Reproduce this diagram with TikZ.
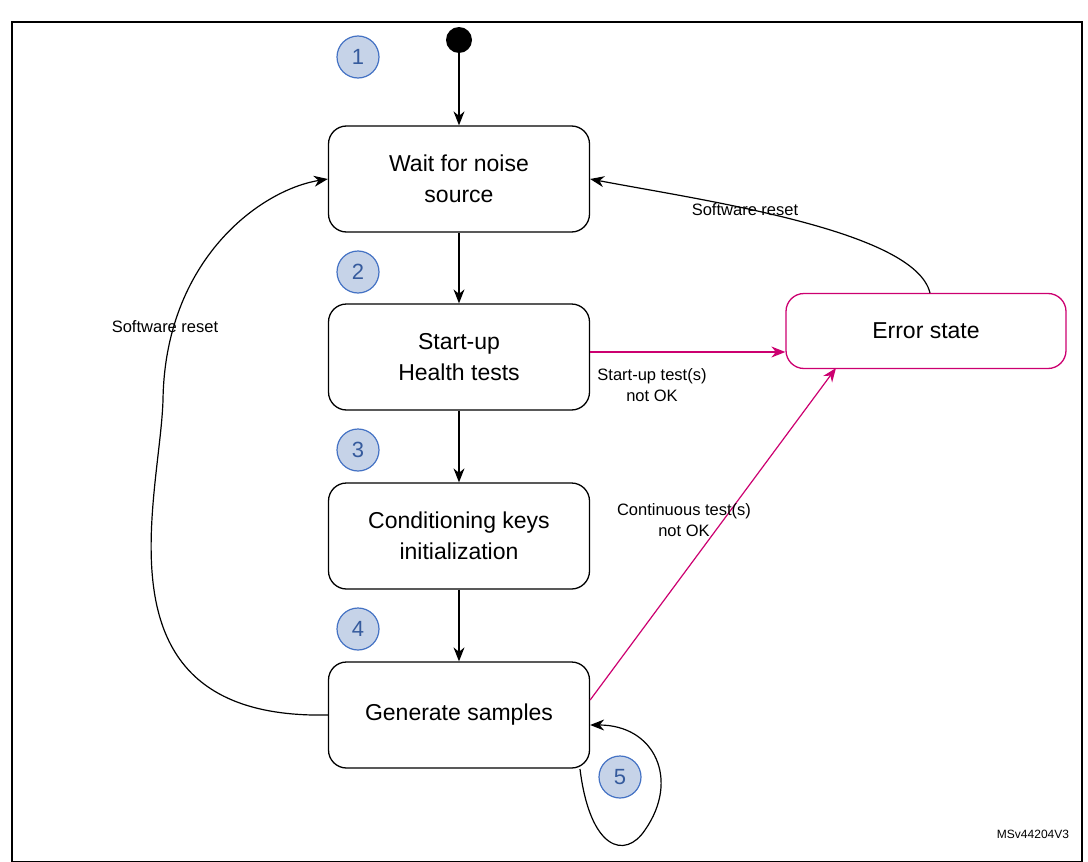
\documentclass[tikz,border=0pt]{standalone}
\usepackage{fontspec}
\setmainfont{Liberation Sans}
\usetikzlibrary{arrows.meta}
\definecolor{mag}{RGB}{204,0,112}
\definecolor{cfill}{RGB}{198,211,232}
\definecolor{cdraw}{RGB}{68,114,196}
\begin{document}
\begin{tikzpicture}[x=1pt,y=-1pt,
 st/.style={draw,line width=1.3pt,rounded corners=18pt,minimum width=261pt,minimum height=106pt,align=center,font=\fontsize{23}{31}\selectfont},
 num/.style={circle,draw=cdraw,fill=cfill,line width=1.2pt,minimum size=42pt,inner sep=0pt,text=cdraw!80!black,font=\fontsize{22}{22}\selectfont},
 lab/.style={font=\fontsize{16.5}{21}\selectfont,align=center},
 ar/.style={-{Stealth[length=14pt,width=11pt]},line width=1.2pt}]
\useasboundingbox (0,0) rectangle (1088,862);
\draw[line width=2pt] (12,22) -- (1082,22) -- (1082,862) -- (12,862) -- cycle;
\node[circle,fill=black,minimum size=26pt,inner sep=0pt] (s) at (459,40) {};
\node[st] (w) at (459,179) {Wait for noise\\source};
\node[st] (h) at (459,357) {Start-up\\Health tests};
\node[st] (c) at (459,536) {Conditioning keys\\initialization};
\node[st] (g) at (459,715) {Generate samples};
\node[st,draw=mag,minimum width=280pt,minimum height=75pt] (e) at (926,331) {Error state};
\node[num] (n1) at (358,57) {1};
\node[num] (n2) at (358,272) {2};
\node[num] (n3) at (358,450) {3};
\node[num] (n4) at (358,629) {4};
\node[num] (n5) at (620,777) {5};
\draw[ar] (s) -- (w);
\draw[ar] (w) -- (h);
\draw[ar] (h) -- (c);
\draw[ar] (c) -- (g);
\draw[ar,mag] (h.east |- 0,352) -- (e.west |- 0,352);
\draw[ar,mag] (g.east |- 0,700) -- (836,368);
\draw[ar] (930,293) .. controls (915,230) and (700,200) .. (w.east);
\draw[ar] (g.west) .. controls (90,720) and (160,500) .. (163,400) .. controls (165,260) and (260,190) .. (w.west);
\draw[ar] (580,769) .. controls (590,850) and (625,860) .. (645,830) .. controls (680,780) and (655,725) .. (g.east |- 0,725);
\node[lab] at (745,210) {Software reset};
\node[lab] at (165,327) {Software reset};
\node[lab] at (652,385) {Start-up test(s)\\not OK};
\node[lab] at (684,520) {Continuous test(s)\\not OK};
\node[font=\fontsize{12}{14}\selectfont] at (1033,834) {MSv44204V3};
\end{tikzpicture}
\end{document}
